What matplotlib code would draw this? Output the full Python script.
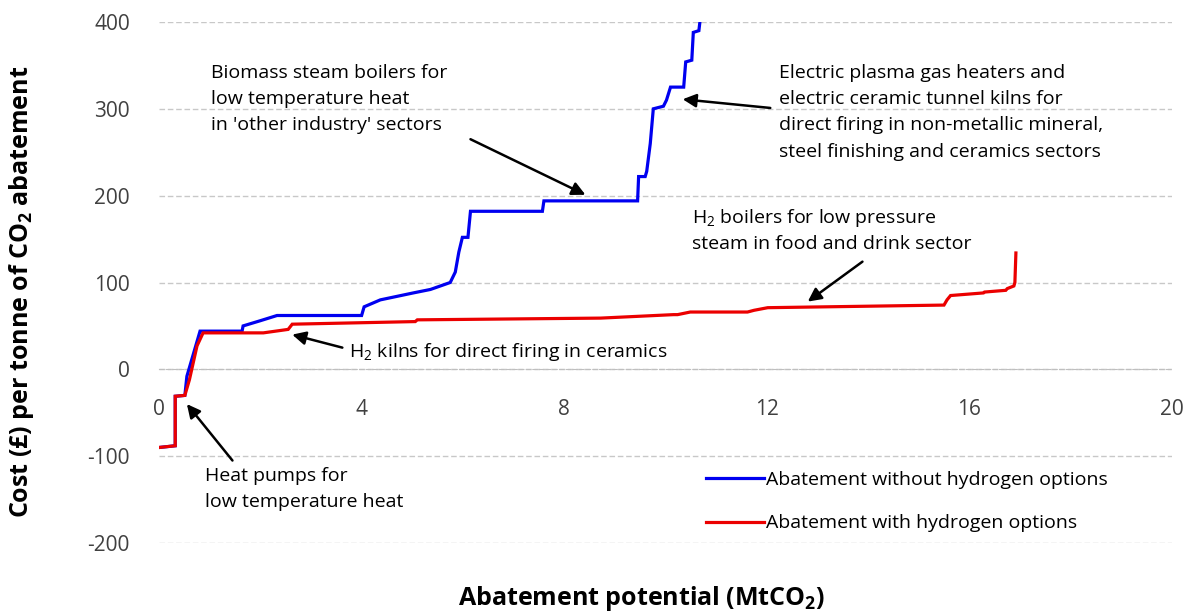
import matplotlib
matplotlib.use("Agg")
import matplotlib.pyplot as plt

plt.rcParams["font.family"] = ["Open Sans", "DejaVu Sans"]
plt.rcParams["mathtext.fontset"] = "custom"
plt.rcParams["mathtext.rm"] = "Open Sans"
plt.rcParams["mathtext.it"] = "Open Sans"
plt.rcParams["mathtext.bf"] = "Open Sans:bold"

# abatement curves (MtCO2, £/tCO2)
blue_x = [0, 0.32, 0.32, 0.51, 0.55, 0.81, 1.64, 1.66, 2.0, 2.33, 4.0, 4.05, 4.37,
          5.02, 5.36, 5.75, 5.85, 5.92, 5.99, 6.1, 6.15, 7.57, 7.6, 9.45, 9.47, 9.6,
          9.63, 9.7, 9.76, 9.96, 10.02, 10.1, 10.36, 10.4, 10.52, 10.55, 10.66, 10.7]
blue_y = [-90, -88, -31, -30, -8, 44, 44, 50, 56, 62, 62, 72, 80,
          88, 92, 100, 112, 135, 152, 152, 182, 182, 194, 194, 222, 222,
          228, 260, 300, 303, 310, 325, 325, 354, 356, 388, 390, 410]

red_x = [0, 0.32, 0.32, 0.51, 0.6, 0.75, 0.87, 2.06, 2.55, 2.63, 5.06, 5.1, 8.72,
         10.16, 10.24, 10.49, 11.62, 11.75, 12.02, 15.5, 15.56, 15.63, 16.28, 16.3,
         16.72, 16.75, 16.88, 16.9, 16.92]
red_y = [-90, -88, -31, -30, -12, 27, 42, 42, 46, 52, 55, 57, 59,
         63, 63, 66, 66, 68, 71, 74, 80, 85, 88, 89,
         91, 93, 96, 100, 134]

x_ticks = [0, 4, 8, 12, 16, 20]
y_ticks = [-200, -100, 0, 100, 200, 300, 400]

fig = plt.figure(figsize=(11.93, 6.14), dpi=100)
ax = fig.add_axes([0.1333, 0.1156, 0.849, 0.8486])

ax.plot(blue_x, blue_y, color="#0000f0", lw=2.3, solid_joinstyle="miter",
        label="Abatement without hydrogen options", zorder=3)
ax.plot(red_x, red_y, color="#eb0000", lw=2.3, solid_joinstyle="miter",
        label="Abatement with hydrogen options", zorder=4)

ax.set_xlim(0, 20)
ax.set_ylim(-200, 400)
ax.set_xticks(x_ticks)
ax.set_yticks(y_ticks)
ax.set_xticklabels([str(t) for t in x_ticks])
ax.set_yticklabels([str(t) for t in y_ticks])
for s in ["top", "right", "left"]:
    ax.spines[s].set_visible(False)
ax.spines["bottom"].set_position(("data", 0))
ax.spines["bottom"].set_color("#bfbfbf")
ax.spines["bottom"].set_linestyle((0, (4, 2)))
ax.tick_params(axis="both", length=0, labelsize=15, labelcolor="#404040")
ax.tick_params(axis="y", pad=21)
ax.tick_params(axis="x", pad=21)
ax.yaxis.grid(True, color="#c8c8c8", lw=1, linestyle=(0, (4, 2)))
ax.set_axisbelow(True)

arrow = dict(arrowstyle="-|>", color="black", lw=1.8, mutation_scale=20,
             shrinkA=0, shrinkB=0)
fs = 14
ls = 1.6

ax.annotate("", xy=(8.42, 201), xytext=(6.15, 265), arrowprops=arrow)
ax.text(1.02, 352, "Biomass steam boilers for\nlow temperature heat\nin 'other industry' sectors",
        fontsize=fs, va="top", ha="left", linespacing=ls)

ax.annotate("", xy=(10.34, 311), xytext=(12.07, 301), arrowprops=arrow)
ax.text(12.25, 352, "Electric plasma gas heaters and\nelectric ceramic tunnel kilns for\n"
        "direct firing in non-metallic mineral,\nsteel finishing and ceramics sectors",
        fontsize=fs, va="top", ha="left", linespacing=ls)

ax.annotate("", xy=(12.81, 78), xytext=(13.89, 124), arrowprops=arrow)
ax.text(10.52, 187, "H$_2$ boilers for low pressure\nsteam in food and drink sector",
        fontsize=fs, va="top", ha="left", linespacing=1.4)

ax.annotate("", xy=(2.63, 40), xytext=(3.62, 25), arrowprops=arrow)
ax.text(3.75, 20, "H$_2$ kilns for direct firing in ceramics",
        fontsize=fs, va="center", ha="left")

ax.annotate("", xy=(0.55, -40), xytext=(1.45, -105), arrowprops=arrow)
ax.text(0.9, -112, "Heat pumps for\nlow temperature heat",
        fontsize=fs, va="top", ha="left", linespacing=ls)

ax.legend(loc="upper left", bbox_to_anchor=(0.54, 0.138), frameon=False,
          fontsize=14, handlelength=3.0, handletextpad=0.1, labelspacing=1.3,
          borderpad=0, borderaxespad=0)

fig.text(0.538, 0.026, "Abatement potential (MtCO$_\\mathbf{2}$)", fontsize=18,
         fontweight="bold", ha="center", va="center")
fig.text(0.018, 0.524, "Cost (£) per tonne of CO$_\\mathbf{2}$ abatement", fontsize=18,
         fontweight="bold", ha="center", va="center", rotation=90)

fig.savefig("out.png", dpi=100)
